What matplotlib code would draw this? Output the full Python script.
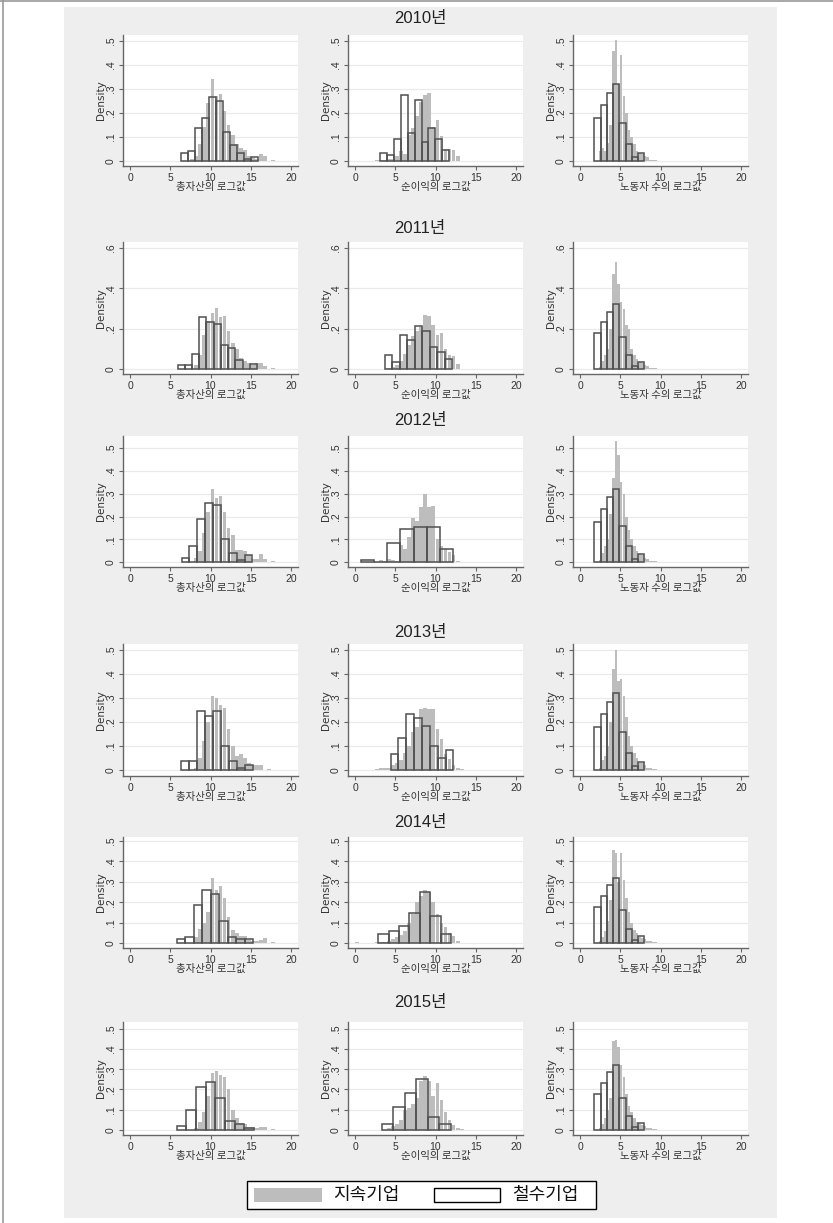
import matplotlib
matplotlib.use("Agg")
import matplotlib.pyplot as plt
from matplotlib.patches import Rectangle
from matplotlib.lines import Line2D

plt.rcParams['font.family'] = ['Liberation Sans', 'Noto Sans CJK KR', 'DejaVu Sans']

years = ['2010년', '2011년', '2012년', '2013년', '2014년', '2015년']
xlabels = ['총자산의 로그값', '순이익의 로그값', '노동자 수의 로그값']
legend_labels = ['지속기업', '철수기업']

# bins: (start, width) for continuing (gray) and exiting (outline) firms, per year, per variable
cont_start = [[7.5, 2.5, 2.3], [8.0, 4.0, 2.3], [8.0, 2.5, 2.3],
              [8.0, 2.5, 2.3], [8.0, 0.0, 2.3], [8.0, 4.0, 2.3]]
cont_width = [0.5, 0.5, 0.33]
exit_start = [[6.3, 3.1, 1.75], [5.9, 3.7, 1.75], [6.4, 0.7, 1.75],
              [6.3, 4.4, 1.75], [5.8, 2.85, 1.75], [5.8, 3.3, 1.75]]
exit_width = [[0.875, 0.86, 0.78], [0.9, 0.93, 0.78], [0.98, 1.64, 0.78],
              [1.0, 0.98, 0.78], [1.06, 1.3, 0.78], [1.2, 1.43, 0.78]]

# densities: continuing firms
cont_asset_2010 = [0.01, 0.02, 0.07, 0.14, 0.24, 0.34, 0.27, 0.28, 0.21, 0.15, 0.11, 0.07, 0.055, 0.045, 0.02, 0.012, 0.01, 0.028, 0.022, 0.0, 0.005]
cont_asset_2011 = [0.02, 0.07, 0.17, 0.24, 0.28, 0.305, 0.26, 0.265, 0.19, 0.13, 0.1, 0.055, 0.04, 0.03, 0.02, 0.03, 0.03, 0.015, 0.0, 0.005]
cont_asset_2012 = [0.02, 0.05, 0.13, 0.22, 0.32, 0.28, 0.29, 0.22, 0.15, 0.12, 0.055, 0.055, 0.05, 0.03, 0.015, 0.015, 0.035, 0.015, 0.0, 0.005]
cont_asset_2013 = [0.01, 0.05, 0.12, 0.2, 0.31, 0.3, 0.27, 0.26, 0.17, 0.1, 0.06, 0.065, 0.05, 0.03, 0.02, 0.02, 0.02, 0.0, 0.005]
cont_asset_2014 = [0.03, 0.07, 0.1, 0.15, 0.32, 0.26, 0.28, 0.22, 0.13, 0.065, 0.05, 0.035, 0.035, 0.015, 0.01, 0.01, 0.015, 0.025, 0.0, 0.003]
cont_asset_2015 = [0.01, 0.04, 0.09, 0.17, 0.28, 0.29, 0.27, 0.26, 0.2, 0.1, 0.06, 0.035, 0.03, 0.015, 0.015, 0.01, 0.015, 0.015, 0.0, 0.003]

cont_profit_2010 = [0.005, 0.005, 0.005, 0.01, 0.01, 0.02, 0.04, 0.03, 0.11, 0.137, 0.186, 0.247, 0.276, 0.285, 0.14, 0.17, 0.105, 0.05, 0.05, 0.045, 0.02]
cont_profit_2011 = [0.005, 0.01, 0.02, 0.04, 0.075, 0.12, 0.165, 0.19, 0.21, 0.27, 0.265, 0.22, 0.17, 0.18, 0.1, 0.07, 0.065, 0.025]
cont_profit_2012 = [0.0, 0.01, 0.005, 0.015, 0.01, 0.005, 0.075, 0.06, 0.11, 0.195, 0.18, 0.24, 0.3, 0.24, 0.245, 0.1, 0.07, 0.06, 0.045, 0.03, 0.005]
cont_profit_2013 = [0.005, 0.01, 0.01, 0.01, 0.02, 0.03, 0.04, 0.07, 0.1, 0.16, 0.18, 0.255, 0.26, 0.255, 0.255, 0.17, 0.13, 0.065, 0.045, 0.02, 0.01, 0.005]
cont_profit_2014 = [0.005, 0.0, 0.0, 0.0, 0.0, 0.003, 0.003, 0.005, 0.01, 0.02, 0.03, 0.04, 0.06, 0.1, 0.14, 0.2, 0.23, 0.26, 0.25, 0.2, 0.14, 0.1, 0.08, 0.05, 0.035, 0.01]
cont_profit_2015 = [0.01, 0.02, 0.03, 0.05, 0.1, 0.11, 0.13, 0.16, 0.24, 0.265, 0.24, 0.17, 0.23, 0.15, 0.09, 0.05, 0.025, 0.01, 0.005]

cont_labor_2010 = [0.04, 0.055, 0.04, 0.075, 0.15, 0.46, 0.505, 0.32, 0.44, 0.27, 0.2, 0.13, 0.1, 0.07, 0.04, 0.035, 0.03, 0.02, 0.015, 0.005, 0.005, 0.005]
cont_labor_2011 = [0.01, 0.04, 0.07, 0.1, 0.2, 0.47, 0.53, 0.42, 0.33, 0.3, 0.22, 0.2, 0.1, 0.07, 0.05, 0.035, 0.03, 0.02, 0.015, 0.005, 0.005, 0.005]
cont_labor_2012 = [0.01, 0.04, 0.07, 0.1, 0.21, 0.37, 0.53, 0.47, 0.35, 0.3, 0.2, 0.14, 0.1, 0.07, 0.05, 0.035, 0.03, 0.02, 0.015, 0.005, 0.005, 0.005]
cont_labor_2013 = [0.01, 0.04, 0.06, 0.1, 0.2, 0.42, 0.5, 0.37, 0.38, 0.31, 0.22, 0.14, 0.1, 0.07, 0.05, 0.03, 0.03, 0.02, 0.01, 0.01, 0.005, 0.005]
cont_labor_2014 = [0.01, 0.03, 0.06, 0.11, 0.21, 0.455, 0.44, 0.3, 0.44, 0.31, 0.22, 0.15, 0.1, 0.065, 0.05, 0.03, 0.025, 0.02, 0.01, 0.01, 0.005, 0.005]
cont_labor_2015 = [0.01, 0.03, 0.06, 0.1, 0.16, 0.44, 0.445, 0.41, 0.32, 0.26, 0.18, 0.12, 0.09, 0.06, 0.04, 0.03, 0.025, 0.02, 0.01, 0.01, 0.005, 0.005]

# densities: exiting firms
exit_asset_2010 = [0.033, 0.042, 0.137, 0.18, 0.267, 0.25, 0.12, 0.067, 0.033, 0.008, 0.017]
exit_asset_2011 = [0.018, 0.018, 0.074, 0.26, 0.232, 0.222, 0.12, 0.102, 0.046, 0.0, 0.026]
exit_asset_2012 = [0.02, 0.07, 0.19, 0.26, 0.25, 0.1, 0.04, 0.01, 0.03]
exit_asset_2013 = [0.039, 0.039, 0.247, 0.226, 0.247, 0.101, 0.039, 0.008, 0.019]
exit_asset_2014 = [0.02, 0.031, 0.184, 0.262, 0.241, 0.108, 0.031, 0.021, 0.02]
exit_asset_2015 = [0.02, 0.099, 0.21, 0.235, 0.156, 0.044, 0.031, 0.008]

exit_profit_2010 = [0.033, 0.023, 0.092, 0.277, 0.115, 0.254, 0.08, 0.139, 0.092, 0.046]
exit_profit_2011 = [0.07, 0.035, 0.168, 0.143, 0.215, 0.19, 0.107, 0.084, 0.049]
exit_profit_2012 = [0.009, 0.0, 0.086, 0.145, 0.154, 0.154, 0.057]
exit_profit_2013 = [0.065, 0.132, 0.232, 0.215, 0.182, 0.099, 0.05, 0.082]
exit_profit_2014 = [0.043, 0.057, 0.085, 0.148, 0.25, 0.133, 0.044]
exit_profit_2015 = [0.031, 0.115, 0.184, 0.25, 0.064, 0.031]

exit_labor = [0.178, 0.232, 0.285, 0.32, 0.16, 0.07, 0.016, 0.035]

cont = [[cont_asset_2010, cont_profit_2010, cont_labor_2010],
        [cont_asset_2011, cont_profit_2011, cont_labor_2011],
        [cont_asset_2012, cont_profit_2012, cont_labor_2012],
        [cont_asset_2013, cont_profit_2013, cont_labor_2013],
        [cont_asset_2014, cont_profit_2014, cont_labor_2014],
        [cont_asset_2015, cont_profit_2015, cont_labor_2015]]
exits = [[exit_asset_2010, exit_profit_2010, exit_labor],
         [exit_asset_2011, exit_profit_2011, exit_labor],
         [exit_asset_2012, exit_profit_2012, exit_labor],
         [exit_asset_2013, exit_profit_2013, exit_labor],
         [exit_asset_2014, exit_profit_2014, exit_labor],
         [exit_asset_2015, exit_profit_2015, exit_labor]]

# layout in pixels
W, H = 833, 1223
col_left = [123, 348, 573]
col_w = 175
row_top = [35, 242, 436, 644, 837, 1022]
row_bot = [166, 374, 567, 776, 948, 1135]
row_ylim = [(-0.0208, 0.525), (-0.0248, 0.63), (-0.0206, 0.553),
            (-0.025, 0.525), (-0.0245, 0.52), (-0.0247, 0.533)]
title_y = [19, 228, 420, 632, 823, 1003]

GRAY = '#bdbdbd'
EDGE = '#505050'
AX = '#666666'


def fx(px):
    return px / W


def fy(py):
    return 1 - py / H


def ytick_fmt(v):
    return '0' if v == 0 else ('%.1f' % v).lstrip('0')


fig = plt.figure(figsize=(W / 100, H / 100), dpi=100)
fig.patch.set_facecolor('white')

# outer frame lines and gray graph region
fig.add_artist(Line2D([0, 1], [fy(0.5), fy(0.5)], color='#999999', lw=1.2))
fig.add_artist(Line2D([fx(3), fx(3)], [0, 1], color='#999999', lw=1.2))
fig.add_artist(Rectangle((fx(64), fy(1218)), fx(777) - fx(64), fy(7) - fy(1218),
                         facecolor='#eeeeee', edgecolor='none', zorder=0))

for r in range(6):
    if r == 1:
        yt = [0, 0.2, 0.4, 0.6]
    else:
        yt = [0, 0.1, 0.2, 0.3, 0.4, 0.5]
    for c in range(3):
        ax = fig.add_axes([fx(col_left[c]), fy(row_bot[r]), col_w / W,
                           (row_bot[r] - row_top[r]) / H])
        ax.set_facecolor('white')
        g = cont[r][c]
        gx = [cont_start[r][c] + cont_width[c] * i for i in range(len(g))]
        ax.bar(gx, g, width=cont_width[c] * 0.98, align='edge', color=GRAY,
               linewidth=0, zorder=2)
        e = exits[r][c]
        ex = [exit_start[r][c] + exit_width[r][c] * i for i in range(len(e))]
        ax.bar(ex, e, width=exit_width[r][c], align='edge', facecolor='none',
               edgecolor=EDGE, linewidth=1.1, zorder=3)
        ax.set_xlim(-0.9, 20.9)
        ax.set_ylim(*row_ylim[r])
        ax.set_yticks(yt)
        ax.set_yticklabels([ytick_fmt(v) for v in yt], rotation=90, va='center')
        ax.set_xticks([0, 5, 10, 15, 20])
        ax.grid(axis='y', color='#eaeaea', lw=0.9, zorder=1)
        ax.set_axisbelow(True)
        for s in ['top', 'right']:
            ax.spines[s].set_visible(False)
        for s in ['left', 'bottom']:
            ax.spines[s].set_color(AX)
            ax.spines[s].set_linewidth(1.0)
        ax.tick_params(colors=AX, labelcolor='#333333', labelsize=7.5,
                       length=3, width=0.8, pad=2)
        ax.set_ylabel('Density', fontsize=7.5, color='#333333',
                      family=['Liberation Sans Narrow', 'DejaVu Sans'])
        ax.yaxis.set_label_coords(-17 / col_w, 0.5)
        fig.text(fx(col_left[c] + col_w / 2), fy(row_bot[r] + 21), xlabels[c],
                 ha='center', va='center', fontsize=7.5, color='#333333',
                 family=['Noto Sans CJK KR', 'DejaVu Sans'])
    fig.text(fx(420), fy(title_y[r]), years[r], ha='center', va='center',
             fontsize=12, color='#222222',
             family=['Liberation Sans', 'Noto Sans CJK KR'])

# legend
fig.add_artist(Rectangle((fx(247), fy(1209)), fx(596) - fx(247), fy(1181) - fy(1209),
                         facecolor='white', edgecolor='black', lw=1.0))
fig.add_artist(Rectangle((fx(254), fy(1202)), fx(322) - fx(254), fy(1188) - fy(1202),
                         facecolor=GRAY, edgecolor='none'))
fig.add_artist(Rectangle((fx(434), fy(1202)), fx(500) - fx(434), fy(1188) - fy(1202),
                         facecolor='white', edgecolor='black', lw=1.0))
fig.text(fx(333), fy(1195), legend_labels[0], ha='left', va='center', fontsize=13,
         family=['Noto Sans CJK KR'], color='#111111')
fig.text(fx(512), fy(1195), legend_labels[1], ha='left', va='center', fontsize=13,
         family=['Noto Sans CJK KR'], color='#111111')

fig.savefig('out.png', dpi=100)
